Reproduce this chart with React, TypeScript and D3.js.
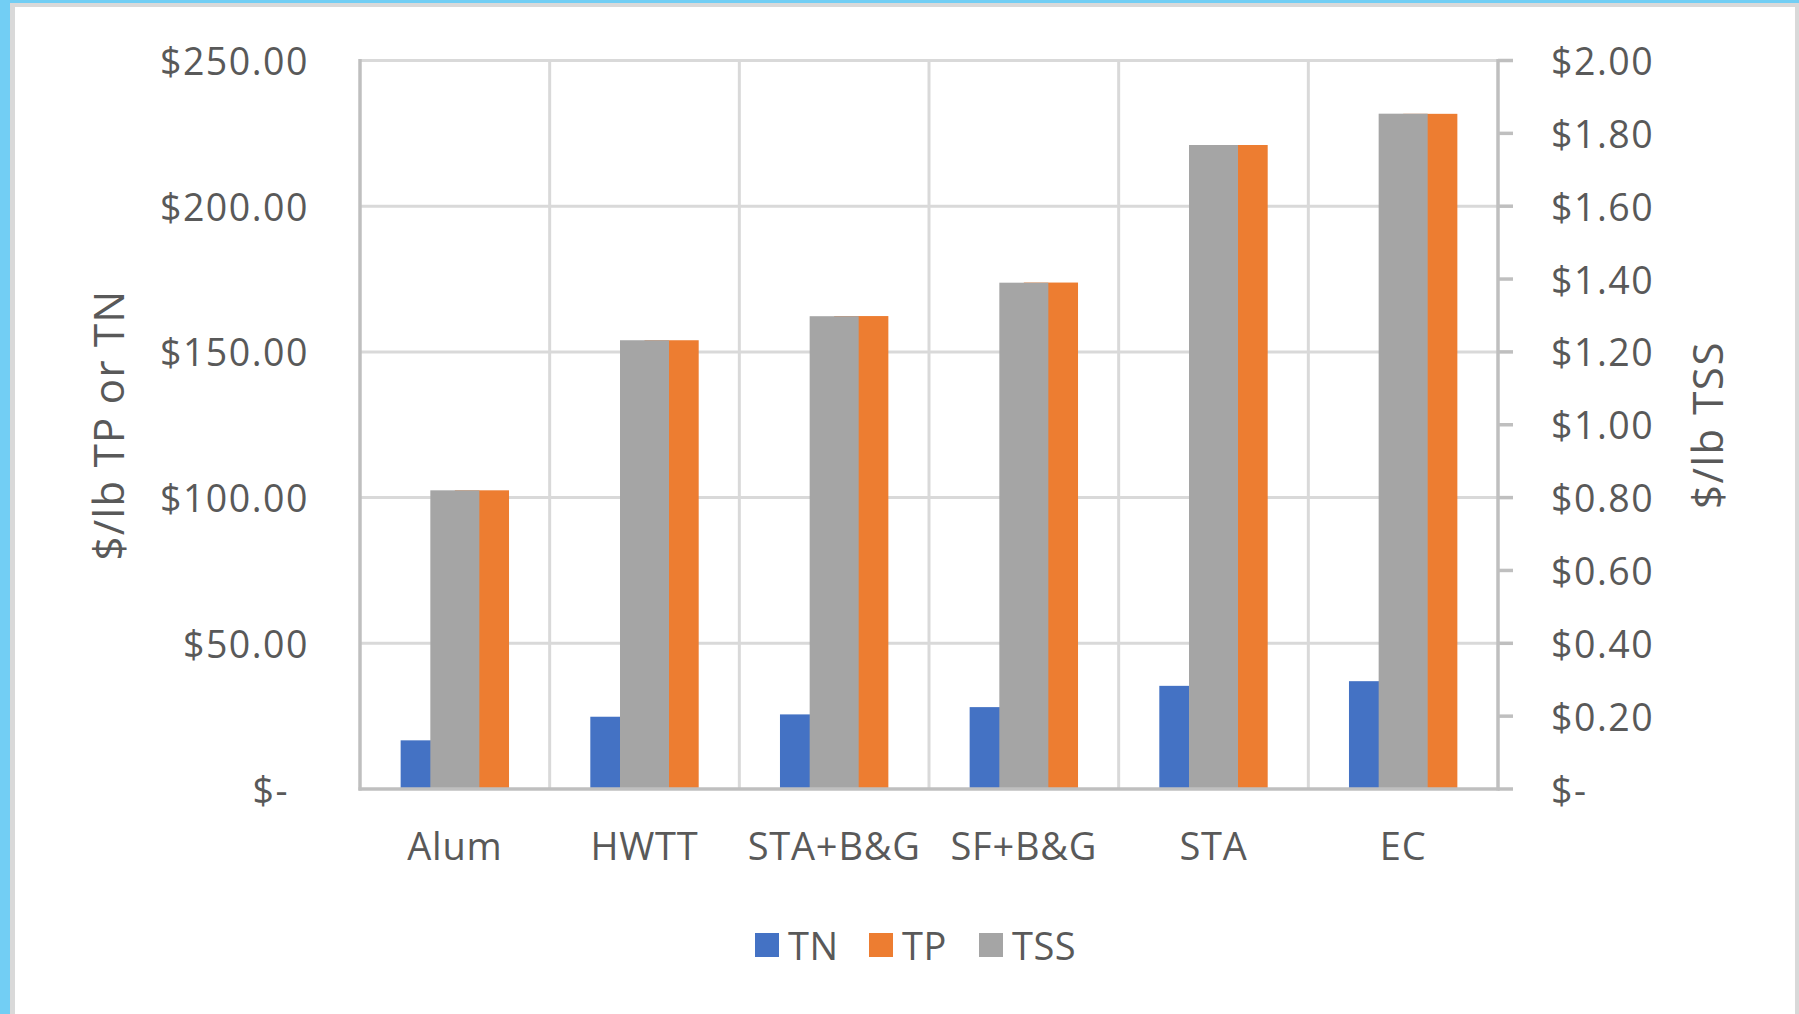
import React from "react";
import * as d3 from "d3";

const categories = ["Alum", "HWTT", "STA+B&G", "SF+B&G", "STA", "EC"];
const tnValues = [16.7, 24.8, 25.6, 28.1, 35.4, 37.0];
const tpValues = [102.5, 154.0, 162.3, 173.8, 221.0, 231.7];
const tssValues = [0.82, 1.232, 1.298, 1.39, 1.768, 1.854];
const leftTicks = [0, 50, 100, 150, 200, 250];
const rightTicks = [0, 0.2, 0.4, 0.6, 0.8, 1.0, 1.2, 1.4, 1.6, 1.8, 2.0];
const legendItems = ["TN", "TP", "TSS"];

const COLORS: Record<string, string> = { TN: "#4472C4", TP: "#ED7D31", TSS: "#A5A5A5" };
const TEXT = "#595959";
const FONT = "'Open Sans', 'Noto Sans', sans-serif";

export default function App() {
  const W = 1799, H = 1014;
  const left = 360, right = 1498, top = 60.5, bottom = 789;

  const x = d3.scaleBand<string>().domain(categories).range([left, right]).paddingInner(0).paddingOuter(0);
  const bw = x.bandwidth();
  const primary = d3.scaleBand<string>().domain(["TN", "TP"]).range([0, bw]).paddingInner(0).paddingOuter(0.75);
  const secondary = d3.scaleBand<string>().domain(["TSS"]).range([0, bw]).paddingInner(0).paddingOuter(1.435);
  const yL = d3.scaleLinear().domain([0, 250]).range([bottom, top]);
  const yR = d3.scaleLinear().domain([0, 2]).range([bottom, top]);

  const fmtL = (v: number) => (v === 0 ? "$-" : "$" + d3.format(".2f")(v));
  const fmtR = (v: number) => (v === 0 ? "$-" : "$" + d3.format(".2f")(v));

  const legendX = [755, 869, 979];

  return (
    <svg width={W} height={H} style={{ position: "absolute", left: 0, top: 0, display: "block" }}>
      <rect x={0} y={0} width={W} height={H} fill="#ffffff" />
      {/* frame */}
      <rect x={0} y={0} width={W} height={3} fill="#72CEF4" />
      <rect x={0} y={0} width={10} height={H} fill="#72CEF4" />
      <rect x={10} y={3} width={W - 10} height={4} fill="#D9D9D9" />
      <rect x={10} y={3} width={5} height={H - 3} fill="#D9D9D9" />
      <rect x={W - 4} y={3} width={4} height={H - 3} fill="#D9D9D9" />

      {/* horizontal gridlines */}
      {leftTicks.filter((t) => t > 0).map((t) => (
        <line key={"hg" + t} x1={left} x2={right} y1={yL(t)} y2={yL(t)} stroke="#D9D9D9" strokeWidth={3} />
      ))}
      {/* vertical gridlines */}
      {categories.slice(1).map((c) => (
        <line key={"vg" + c} x1={x(c)!} x2={x(c)!} y1={top} y2={bottom} stroke="#D9D9D9" strokeWidth={3} />
      ))}

      {/* primary bars */}
      {categories.map((c, i) => (
        <g key={"p" + c}>
          <rect x={x(c)! + primary("TN")!} width={primary.bandwidth()} y={yL(tnValues[i])} height={bottom - yL(tnValues[i])} fill={COLORS.TN} />
          <rect x={x(c)! + primary("TP")!} width={primary.bandwidth()} y={yL(tpValues[i])} height={bottom - yL(tpValues[i])} fill={COLORS.TP} />
        </g>
      ))}
      {/* secondary bars */}
      {categories.map((c, i) => (
        <rect key={"s" + c} x={x(c)! + secondary("TSS")!} width={secondary.bandwidth()} y={yR(tssValues[i])} height={bottom - yR(tssValues[i])} fill={COLORS.TSS} />
      ))}

      {/* axes */}
      <line x1={left} x2={left} y1={top - 1.5} y2={bottom + 1.5} stroke="#BFBFBF" strokeWidth={3.5} />
      <line x1={right} x2={right} y1={top - 1.5} y2={bottom + 1.5} stroke="#BFBFBF" strokeWidth={3.5} />
      <line x1={left - 1.5} x2={right + 1.5} y1={bottom} y2={bottom} stroke="#BFBFBF" strokeWidth={3.5} />
      {rightTicks.map((t) => (
        <line key={"rt" + t} x1={right} x2={right + 15} y1={yR(t)} y2={yR(t)} stroke="#BFBFBF" strokeWidth={3.5} />
      ))}

      {/* left tick labels */}
      {leftTicks.map((t) => (
        <text key={"lt" + t} x={t === 0 ? 289 : 309} y={yL(t)} textAnchor="end" dominantBaseline="central"
          fontFamily={FONT} fontSize={37.5} letterSpacing={1.5} fill={TEXT}>{fmtL(t)}</text>
      ))}
      {/* right tick labels */}
      {rightTicks.map((t) => (
        <text key={"rl" + t} x={1551} y={yR(t)} textAnchor="start" dominantBaseline="central"
          fontFamily={FONT} fontSize={37.5} letterSpacing={1.5} fill={TEXT}>{fmtR(t)}</text>
      ))}

      {/* category labels */}
      {categories.map((c) => (
        <text key={"cl" + c} x={x(c)! + bw / 2} y={860} textAnchor="middle" fontFamily={FONT} fontSize={38} letterSpacing={0.8} fill={TEXT}>{c}</text>
      ))}

      {/* axis titles */}
      <text transform={`translate(124,425) rotate(-90)`} textAnchor="middle" fontFamily={FONT} fontSize={42} letterSpacing={1.3} fill={TEXT}>$/lb TP or TN</text>
      <text transform={`translate(1723,425) rotate(-90)`} textAnchor="middle" fontFamily={FONT} fontSize={42} letterSpacing={1.5} fill={TEXT}>$/lb TSS</text>

      {/* legend */}
      {legendItems.map((k, i) => (
        <g key={"lg" + k}>
          <rect x={legendX[i]} y={933} width={24} height={24} fill={COLORS[k]} />
          <text x={legendX[i] + 33} y={960} fontFamily={FONT} fontSize={38} letterSpacing={0.5} fill={TEXT}>{k}</text>
        </g>
      ))}
    </svg>
  );
}
